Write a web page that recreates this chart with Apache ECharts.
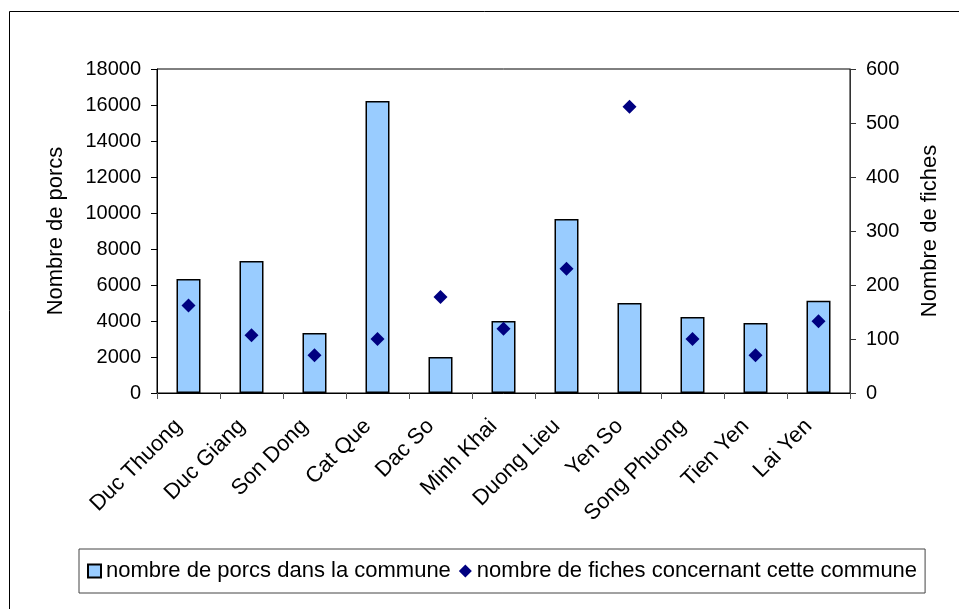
<!DOCTYPE html>
<html>
<head>
<meta charset="utf-8">
<script src="https://cdn.jsdelivr.net/npm/echarts@6/dist/echarts.min.js"></script>
<style>
  html, body { margin: 0; padding: 0; background: #fff; }
  #chart { width: 959px; height: 609px; }
</style>
</head>
<body>
<div id="chart"></div>
<script>
// communes
const communes = ['Duc Thuong', 'Duc Giang', 'Son Dong', 'Cat Que', 'Dac So', 'Minh Khai',
    'Duong Lieu', 'Yen So', 'Song Phuong', 'Tien Yen', 'Lai Yen'];
// nombre de porcs (axe gauche)
const porcs = [6330, 7330, 3330, 16220, 2000, 4000, 9670, 5000, 4220, 3890, 5130];
// nombre de fiches (axe droit)
const fiches = [162, 107, 70, 100, 178, 119, 230, 530, 100, 70, 133];
const porcsTicks = [0, 18000, 2000];   // min, max, pas
const fichesTicks = [0, 600, 100];

const font = "'Liberation Sans', Arial, sans-serif";
const chart = echarts.init(document.getElementById('chart'));

const option = {
    backgroundColor: '#fff',
    animation: false,
    textStyle: { fontFamily: font, color: '#000' },
    graphic: [{
        type: 'rect',
        shape: { x: 9.5, y: 11.5, width: 1000, height: 1000 },
        style: { fill: 'none', stroke: '#000', lineWidth: 1 },
        silent: true
    }],
    grid: {
        left: 157, right: 109, top: 69, bottom: 216,
        show: true, borderColor: '#000', borderWidth: 1, backgroundColor: 'transparent'
    },
    legend: {
        left: 79, top: 549,
        padding: [11, 8, 11, 8],
        borderColor: '#444', borderWidth: 1,
        itemWidth: 13, itemHeight: 13, itemGap: 8,
        textStyle: { fontSize: 22, fontFamily: font, color: '#000' },
        data: [
            { name: 'nombre de porcs dans la commune', icon: 'rect' },
            { name: 'nombre de fiches concernant cette commune', icon: 'diamond' }
        ]
    },
    xAxis: {
        type: 'category',
        data: communes,
        boundaryGap: true,
        axisLine: { lineStyle: { color: '#000', width: 1 } },
        axisTick: { show: true, length: 6, lineStyle: { color: '#555' } },
        axisLabel: { rotate: 45, interval: 0, margin: 20, padding: [0, 14, 0, 0],
            fontSize: 22, color: '#000', fontFamily: font },
        splitLine: { show: false }
    },
    yAxis: [
        {
            type: 'value',
            min: porcsTicks[0], max: porcsTicks[1], interval: porcsTicks[2],
            name: 'Nombre de porcs',
            nameLocation: 'middle', nameGap: 90, nameRotate: 90,
            nameTextStyle: { fontSize: 22, color: '#000', fontFamily: font },
            axisLine: { show: true, lineStyle: { color: '#000' } },
            axisTick: { show: true, length: 6, lineStyle: { color: '#000' } },
            axisLabel: { margin: 16, fontSize: 20, color: '#000', fontFamily: font,
                formatter: v => String(v) },
            splitLine: { show: false }
        },
        {
            type: 'value',
            min: fichesTicks[0], max: fichesTicks[1], interval: fichesTicks[2],
            name: 'Nombre de fiches',
            nameLocation: 'middle', nameGap: 69, nameRotate: 90,
            nameTextStyle: { fontSize: 22, color: '#000', fontFamily: font },
            axisLine: { show: true, lineStyle: { color: '#333' } },
            axisTick: { show: true, length: 6, lineStyle: { color: '#333' } },
            axisLabel: { margin: 16, fontSize: 20, color: '#000', fontFamily: font,
                formatter: v => String(v) },
            splitLine: { show: false }
        }
    ],
    series: [
        {
            name: 'nombre de porcs dans la commune',
            type: 'bar',
            yAxisIndex: 0,
            data: porcs,
            barWidth: 24,
            itemStyle: { color: '#99CCFF', borderColor: '#000', borderWidth: 1.5 }
        },
        {
            name: 'nombre de fiches concernant cette commune',
            type: 'scatter',
            yAxisIndex: 1,
            data: fiches,
            symbol: 'diamond',
            symbolSize: 14,
            itemStyle: { color: '#000080', opacity: 1 }
        }
    ]
};

chart.setOption(option);
</script>
</body>
</html>
